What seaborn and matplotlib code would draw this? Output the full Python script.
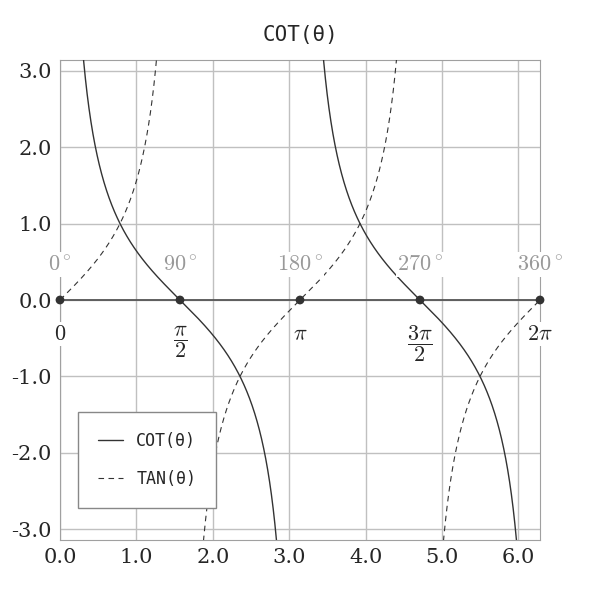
import numpy as np
import matplotlib
matplotlib.use("Agg")
import matplotlib.pyplot as plt
import seaborn as sns
import pandas as pd

title = "COT(θ)"
series_names = ["COT(θ)", "TAN(θ)"]
marker_angles = [0, np.pi/2, np.pi, 3*np.pi/2, 2*np.pi]
rad_labels = [r"$0$", r"$\dfrac{\pi}{2}$", r"$\pi$", r"$\dfrac{3\pi}{2}$", r"$2\pi$"]
deg_labels = [r"$0^\circ$", r"$90^\circ$", r"$180^\circ$", r"$270^\circ$", r"$360^\circ$"]
xticks = [0, 1, 2, 3, 4, 5, 6]
yticks = [-3, -2, -1, 0, 1, 2, 3]

sns.set_style("white")
plt.rcParams["mathtext.fontset"] = "cm"
plt.rcParams["font.family"] = ["DejaVu Serif"]

th = np.linspace(0.001, 2*np.pi - 0.001, 4000)
cot = np.cos(th) / np.sin(th)
tan = np.sin(th) / np.cos(th)
seg_cot = np.floor(th / np.pi)
seg_tan = np.floor((th + np.pi/2) / np.pi)
df = pd.DataFrame({"theta": th, "cot": cot, "tan": tan, "sc": seg_cot, "st": seg_tan})
dc = df[np.abs(df.cot) < 4]
dt = df[np.abs(df.tan) < 4]

fig, ax = plt.subplots(figsize=(6, 6), dpi=100)
fig.subplots_adjust(left=0.1, right=0.9, top=0.9, bottom=0.1)
ax.set_xlim(0, 2*np.pi)
ax.set_ylim(-3.14, 3.14)
ax.set_xticks(xticks)
ax.set_yticks(yticks)
ax.set_xticklabels([f"{v:.1f}" for v in xticks], fontsize=15)
ax.set_yticklabels([f"{v:.1f}" for v in yticks], fontsize=15)
ax.tick_params(length=0, pad=6)
ax.grid(True, color="#c0c0c0", lw=1)
for s in ax.spines.values():
    s.set_color("#a0a0a0")
ax.axhline(0, color="#555555", lw=1.3, zorder=2)
ax.axvline(0, color="#555555", lw=1.3, zorder=2)

sns.lineplot(data=dc, x="theta", y="cot", units="sc", estimator=None, ax=ax, color="#333333", lw=1, zorder=3)
sns.lineplot(data=dt, x="theta", y="tan", units="st", estimator=None, ax=ax, color="#333333", lw=0.8, ls=(0, (5, 4)), zorder=3)
ax.plot([], [], color="#333333", lw=1, label=series_names[0])
ax.plot([], [], color="#333333", lw=0.8, ls=(0, (5, 4)), label=series_names[1])
ax.set_xlabel("")
ax.set_ylabel("")

sns.scatterplot(x=marker_angles, y=[0]*5, ax=ax, color="#333333", s=40, zorder=5, clip_on=False, edgecolor="none")
for a, r, d in zip(marker_angles, rad_labels, deg_labels):
    ax.text(a, -0.3, r, ha="center", va="top", fontsize=16, zorder=6,
            bbox=dict(facecolor="white", edgecolor="none", pad=1))
    ax.text(a, 0.32, d, ha="center", va="bottom", fontsize=16, color="#999999", zorder=6,
            bbox=dict(facecolor="white", edgecolor="none", pad=1))

leg = ax.legend(loc="lower left", bbox_to_anchor=(0.02, 0.05), prop={"family": "DejaVu Sans Mono", "size": 12},
                fancybox=False, edgecolor="#888888", framealpha=1, borderpad=1.2, labelspacing=1.2, handlelength=1.5)
ax.set_title(title, fontsize=15, family="DejaVu Sans Mono", pad=14)
fig.savefig("out.png")
